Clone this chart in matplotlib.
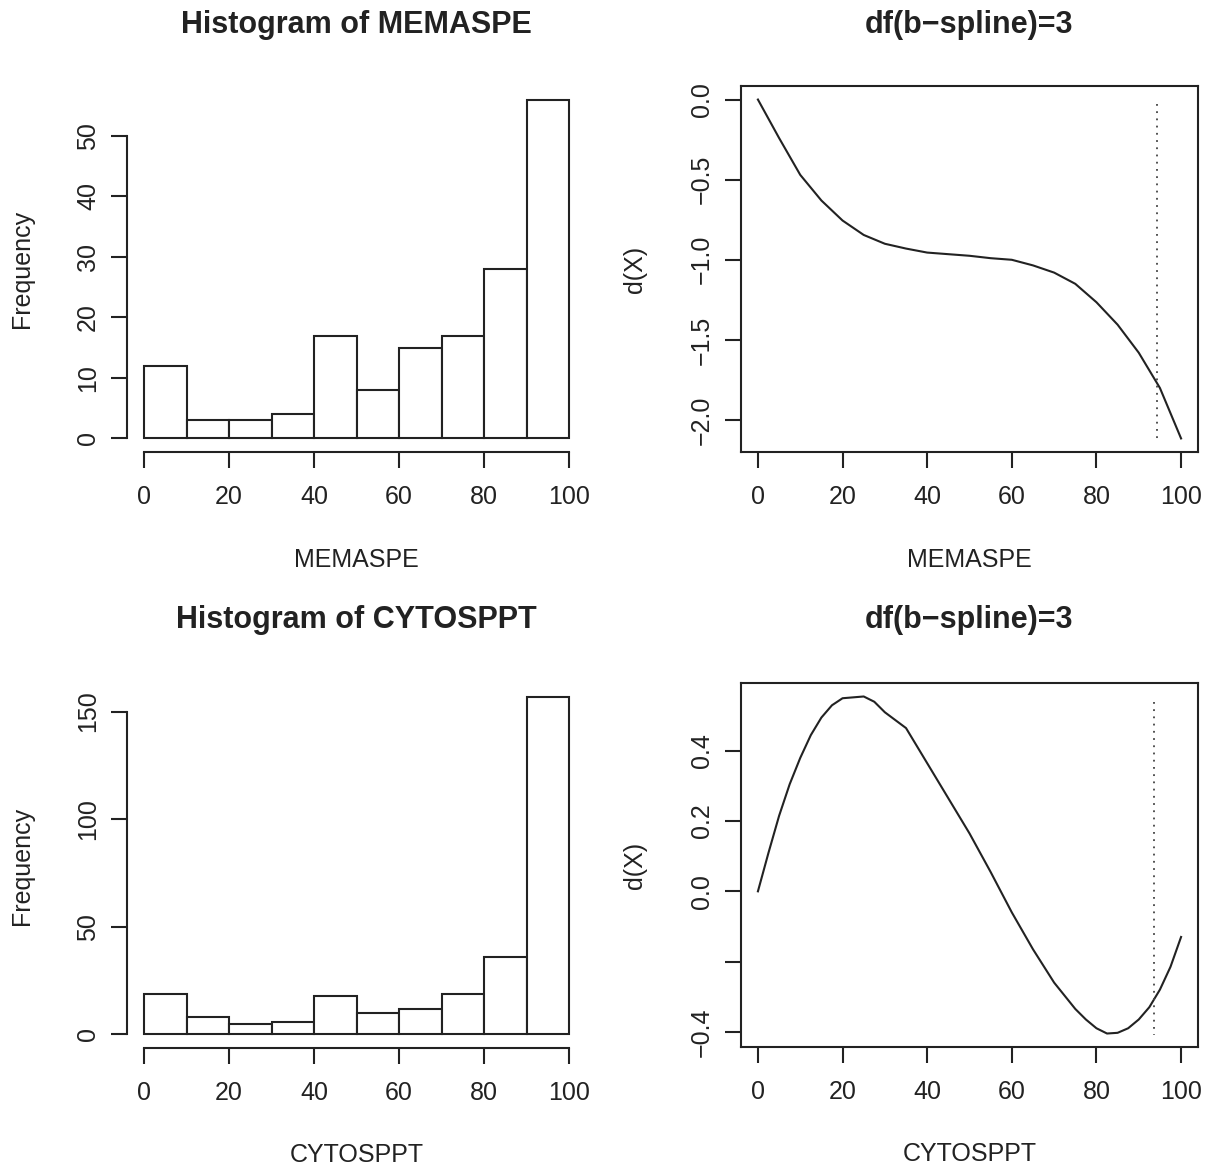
import numpy as np
import matplotlib
matplotlib.use('Agg')
import matplotlib.pyplot as plt
from matplotlib.ticker import FixedLocator, FixedFormatter

plt.rcParams['font.family'] = ['Liberation Sans', 'DejaVu Sans']

# histogram counts, bins of width 10 from 0 to 100
bin_edges = [0, 10, 20, 30, 40, 50, 60, 70, 80, 90]
memaspe_counts = [12, 3, 3, 4, 17, 8, 15, 17, 28, 56]
cytosppt_counts = [19, 8, 5, 6, 18, 10, 12, 19, 36, 157]

# fitted b-spline curves (df = 3)
memaspe_x = [0, 5, 10, 15, 20, 25, 30, 35, 40, 45, 50, 55, 60, 65, 70, 75, 80, 85, 90, 95, 100]
memaspe_dx = [0.0, -0.24, -0.47, -0.63, -0.755, -0.845, -0.90, -0.93, -0.955, -0.965, -0.975,
              -0.99, -1.0, -1.035, -1.08, -1.15, -1.265, -1.405, -1.58, -1.80, -2.115]
cytosppt_x = [0, 2.5, 5, 7.5, 10, 12.5, 15, 17.5, 20, 25, 27.5, 30, 35, 40, 45, 50, 55, 60,
              65, 70, 75, 77.5, 80, 82.5, 85, 87.5, 90, 92.5, 95, 97.5, 100]
cytosppt_dx = [0.0, 0.11, 0.215, 0.305, 0.38, 0.445, 0.495, 0.53, 0.55, 0.555, 0.54, 0.51,
               0.465, 0.365, 0.265, 0.165, 0.055, -0.06, -0.165, -0.26, -0.335, -0.365,
               -0.39, -0.405, -0.403, -0.39, -0.365, -0.33, -0.28, -0.215, -0.13]

# dotted reference lines (x position, y from, y to)
memaspe_vline = (94.4, -0.03, -2.125)
cytosppt_vline = (93.5, 0.538, -0.41)

x_ticks = [0, 20, 40, 60, 80, 100]
memaspe_hist_yticks = [0, 10, 20, 30, 40, 50]
cytosppt_hist_yticks = [0, 50, 100, 150]
memaspe_dx_yticks = [0.0, -0.5, -1.0, -1.5, -2.0]
memaspe_dx_ylabels = ['0.0', '\u22120.5', '\u22121.0', '\u22121.5', '\u22122.0']
cytosppt_dx_yticks = [0.4, 0.2, 0.0, -0.2, -0.4]
cytosppt_dx_ylabels = ['0.4', '0.2', '0.0', '', '\u22120.4']

TXT = '#222222'
LW = 1.5
FS = 18

W, H = 1216, 1169
fig = plt.figure(figsize=(W / 100, H / 100), dpi=100)


def make_axes(left, top, right, bottom):
    return fig.add_axes([left / W, 1 - bottom / H, (right - left) / W, (bottom - top) / H])


def style_ticks(ax):
    ax.tick_params(axis='both', direction='out', length=11.5, width=LW, colors='#222222',
                   labelsize=FS, labelcolor=TXT)
    ax.tick_params(axis='x', pad=12)
    ax.tick_params(axis='y', pad=8, labelrotation=90)
    for lab in ax.get_yticklabels():
        lab.set_va('center')


def set_titles(ax, title, xlabel, ylabel, title_y, xlab_y, ylab_x):
    ax.set_title(title, fontsize=22, fontweight='bold', color=TXT, y=title_y, pad=0, va='center')
    ax.set_xlabel(xlabel, fontsize=FS, color=TXT, va='center')
    ax.xaxis.set_label_coords(0.5, xlab_y)
    ax.set_ylabel(ylabel, fontsize=FS, color=TXT, va='center')
    ax.yaxis.set_label_coords(ylab_x, 0.5)


def draw_hist(ax, counts, yticks):
    ax.bar(bin_edges, counts, width=10, align='edge', facecolor='white',
           edgecolor='#222222', linewidth=LW)
    top = max(counts)
    ax.set_xlim(-4, 104)
    ax.set_ylim(-0.04 * top, 1.04 * top)
    for s in ['top', 'right']:
        ax.spines[s].set_visible(False)
    for s in ['left', 'bottom']:
        ax.spines[s].set_linewidth(LW)
        ax.spines[s].set_color('#222222')
    ax.spines['left'].set_bounds(yticks[0], yticks[-1])
    ax.spines['bottom'].set_bounds(0, 100)
    ax.set_xticks(x_ticks)
    ax.set_yticks(yticks)
    style_ticks(ax)


def draw_curve(ax, x, y, vline, yticks, ylabels):
    ax.plot(x, y, color='#222222', linewidth=LW)
    ax.plot([vline[0], vline[0]], [vline[1], vline[2]], color='#444444',
            linewidth=1.3, linestyle=(0, (1, 3)))
    rng = max(y) - min(y)
    ax.set_xlim(-4, 104)
    ax.set_ylim(min(y) - 0.04 * rng, max(y) + 0.04 * rng)
    for s in ax.spines.values():
        s.set_linewidth(LW)
        s.set_color('#222222')
    ax.set_xticks(x_ticks)
    ax.yaxis.set_major_locator(FixedLocator(yticks))
    ax.yaxis.set_major_formatter(FixedFormatter(ylabels))
    style_ticks(ax)


ax1 = make_axes(127, 86, 586, 452)
draw_hist(ax1, memaspe_counts, memaspe_hist_yticks)
set_titles(ax1, 'Histogram of MEMASPE', 'MEMASPE', 'Frequency', 1.167, -0.295, -0.229)

ax2 = make_axes(741, 86, 1198, 452)
draw_curve(ax2, memaspe_x, memaspe_dx, memaspe_vline, memaspe_dx_yticks, memaspe_dx_ylabels)
set_titles(ax2, 'df(b\u2212spline)=3', 'MEMASPE', 'd(X)', 1.167, -0.295, -0.232)

ax3 = make_axes(127, 683, 586, 1048)
draw_hist(ax3, cytosppt_counts, cytosppt_hist_yticks)
set_titles(ax3, 'Histogram of CYTOSPPT', 'CYTOSPPT', 'Frequency', 1.173, -0.293, -0.229)

ax4 = make_axes(741, 683, 1198, 1047)
draw_curve(ax4, cytosppt_x, cytosppt_dx, cytosppt_vline, cytosppt_dx_yticks, cytosppt_dx_ylabels)
set_titles(ax4, 'df(b\u2212spline)=3', 'CYTOSPPT', 'd(X)', 1.173, -0.293, -0.232)

fig.savefig('out.png', dpi=100)
